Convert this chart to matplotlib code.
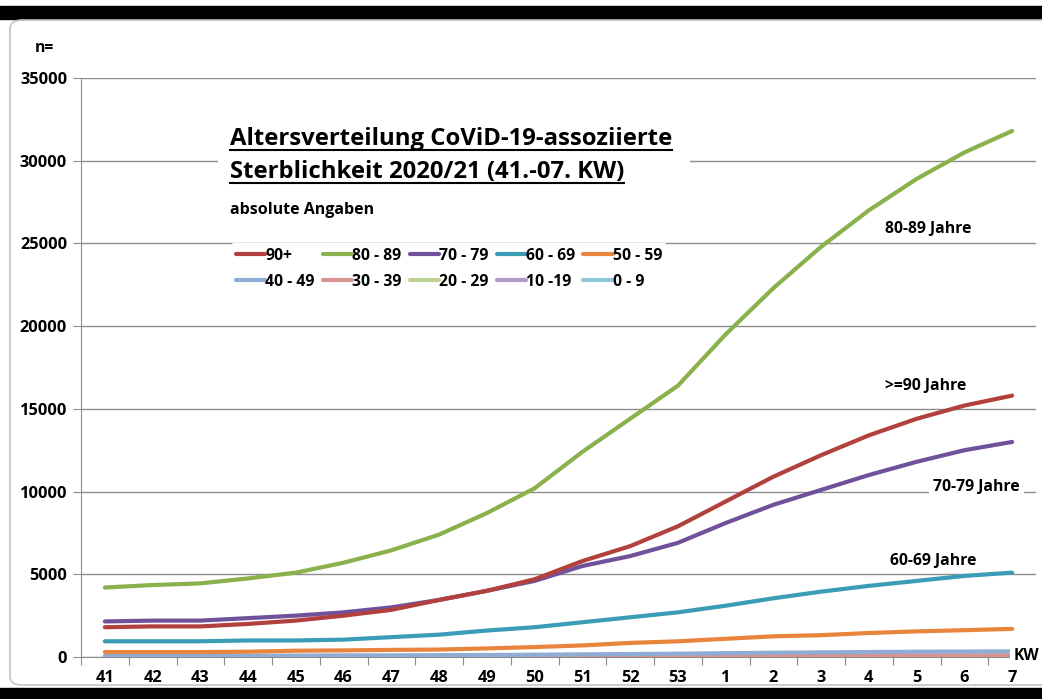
import numpy as np
import matplotlib as mpl
mpl.use("Agg")
import matplotlib.pyplot as plt
from matplotlib.patches import Rectangle, FancyBboxPatch
from matplotlib.lines import Line2D

mpl.rcParams.update({
    "font.family": ["Open Sans", "DejaVu Sans"],
    "font.weight": "bold",
})

weeks = ["41", "42", "43", "44", "45", "46", "47", "48", "49", "50",
         "51", "52", "53", "1", "2", "3", "4", "5", "6", "7"]

age_90 = [1800, 1850, 1850, 2000, 2200, 2500, 2850, 3450, 4000, 4700,
          5800, 6700, 7900, 9400, 10900, 12200, 13400, 14400, 15200, 15800]
age_80 = [4200, 4350, 4450, 4750, 5100, 5700, 6450, 7400, 8700, 10200,
          12400, 14400, 16400, 19500, 22300, 24800, 27000, 28900, 30500, 31800]
age_70 = [2150, 2200, 2200, 2350, 2500, 2700, 3000, 3450, 4000, 4600,
          5500, 6100, 6900, 8100, 9200, 10100, 11000, 11800, 12500, 13000]
age_60 = [950, 950, 950, 1000, 1000, 1050, 1200, 1350, 1600, 1800,
          2100, 2400, 2700, 3100, 3550, 3950, 4300, 4600, 4900, 5100]
age_50 = [300, 300, 300, 320, 380, 400, 430, 450, 520, 600,
          700, 850, 950, 1100, 1250, 1320, 1450, 1550, 1620, 1700]
age_40 = [60, 65, 70, 75, 85, 95, 100, 110, 120, 140,
          160, 180, 200, 230, 260, 280, 300, 320, 330, 340]
age_30 = [20, 20, 22, 25, 28, 30, 32, 35, 40, 45,
          50, 55, 60, 70, 80, 85, 90, 95, 100, 105]
age_20 = [5, 5, 5, 6, 7, 8, 9, 10, 11, 12,
          14, 16, 18, 20, 22, 24, 26, 28, 29, 30]
age_10 = [1, 1, 1, 1, 1, 1, 2, 2, 2, 2, 3, 3, 3, 3, 4, 4, 4, 4, 5, 5]
age_0 = [0, 0, 0, 0, 0, 0, 0, 1, 1, 1, 1, 1, 1, 1, 1, 2, 2, 2, 2, 2]

labels = ["90+", "80 - 89", "70 - 79", "60 - 69", "50 - 59",
          "40 - 49", "30 - 39", "20 - 29", "10 -19", "0 - 9"]
series = [age_90, age_80, age_70, age_60, age_50,
          age_40, age_30, age_20, age_10, age_0]
colors = ["#B2403C", "#8AB14B", "#6F529B", "#3A9DB5", "#E8843C",
          "#8FACD4", "#D89290", "#BDD494", "#AE9CC4", "#8CC8DA"]

fig = plt.figure(figsize=(10.42, 6.99), dpi=100)
W, H = 1042, 699

# screenshot frame
fig.patches.append(Rectangle((0, 1 - 19 / H), 1, 13 / H, transform=fig.transFigure,
                             color="black", zorder=0))
fig.patches.append(Rectangle((0, 0), 1, 11 / H, transform=fig.transFigure,
                             color="black", zorder=0))
fig.patches.append(FancyBboxPatch((10 / W, 14 / H), 1.2, 665 / H,
                                  boxstyle="round,pad=0,rounding_size=0.012",
                                  transform=fig.transFigure, fc="none",
                                  ec="#C4C4C4", lw=1.2, zorder=0))

ax = fig.add_axes([81 / W, 1 - 657 / H, 955 / W, 579 / H])
x = np.arange(len(weeks))

for vals, lab, col in zip(series[::-1], labels[::-1], colors[::-1]):
    ax.plot(x, vals, color=col, lw=3.0, solid_capstyle="round", label=lab, zorder=3)

ax.set_xlim(-0.5, len(weeks) - 0.5)
ax.set_ylim(0, 35000)
ax.set_yticks(np.arange(0, 35001, 5000))
ax.set_xticks(np.arange(-0.5, len(weeks), 1.0))
ax.set_xticklabels([])
ax.set_xticks(x, minor=True)
ax.set_xticklabels(weeks, minor=True)
ax.tick_params(axis="x", which="major", length=6, color="#8C8C8C", direction="out")
ax.tick_params(axis="x", which="minor", length=0, pad=9, labelsize=11.8)
ax.tick_params(axis="y", length=6, color="#8C8C8C", labelsize=11.8, pad=4)
for s in ["top", "right"]:
    ax.spines[s].set_visible(False)
for s in ["left", "bottom"]:
    ax.spines[s].set_color("#8C8C8C")
ax.grid(axis="y", color="#8C8C8C", lw=1.0)
ax.set_axisbelow(True)

# title box (white background hides the gridline behind it)
ax.add_patch(Rectangle((218 / W, 1 - 228 / H), 472 / W, 112 / H,
                       transform=fig.transFigure, fc="white", ec="none", zorder=2))
t1 = ax.text(2.62, 30950, "Altersverteilung CoViD-19-assoziierte", fontsize=17.2,
             ha="left", va="baseline", zorder=5)
t2 = ax.text(2.62, 28950, "Sterblichkeit 2020/21 (41.-07. KW)", fontsize=17.2,
             ha="left", va="baseline", zorder=5)
ax.text(2.62, 26750, "absolute Angaben", fontsize=11.5, ha="left", va="baseline", zorder=5)

fig.canvas.draw()
r = fig.canvas.get_renderer()
for t in (t1, t2):
    bb = t.get_window_extent(renderer=r)
    yy = bb.y0 + 1
    fig.add_artist(Line2D([bb.x0 / W, bb.x1 / W], [yy / H, yy / H],
                          transform=fig.transFigure, color="black", lw=1.5, zorder=6))

handles, labs = ax.get_legend_handles_labels()
hmap = dict(zip(labs, handles))
order = []
for i in range(5):
    order += [labels[i], labels[i + 5]]
leg = ax.legend([hmap[l] for l in order], order, ncol=5, loc="upper left",
                bbox_to_anchor=(142 / 955, 1 - (235 - 78) / 579), frameon=True,
                fontsize=11.3, handlelength=1.85, handletextpad=0.05, columnspacing=0.5,
                labelspacing=0.65, borderpad=0.3)
leg.get_frame().set_facecolor("white")
leg.get_frame().set_edgecolor("none")
leg.get_frame().set_alpha(1)
leg.set_zorder(5)
for h in leg.get_lines():
    h.set_linewidth(3.0)

# series annotations
ax.text(17.25, 25900, "80-89 Jahre", fontsize=11.3, ha="center", va="center", zorder=5)
ax.text(17.18, 16385, ">=90 Jahre", fontsize=11.3, ha="center", va="center", zorder=5)
ax.text(18.25, 10250, "70-79 Jahre", fontsize=11.3, ha="center", va="center", zorder=5,
        bbox=dict(fc="white", ec="none", pad=3))
ax.text(17.35, 5800, "60-69 Jahre", fontsize=11.3, ha="center", va="center", zorder=5)

fig.text(44 / W, 1 - 48 / H, "n=", fontsize=11.3, ha="center", va="center")
fig.text(1026 / W, 1 - 656 / H, "KW", fontsize=11.3, ha="center", va="center",
         bbox=dict(fc="white", ec="none", pad=2))

fig.savefig("out.png", dpi=100)
